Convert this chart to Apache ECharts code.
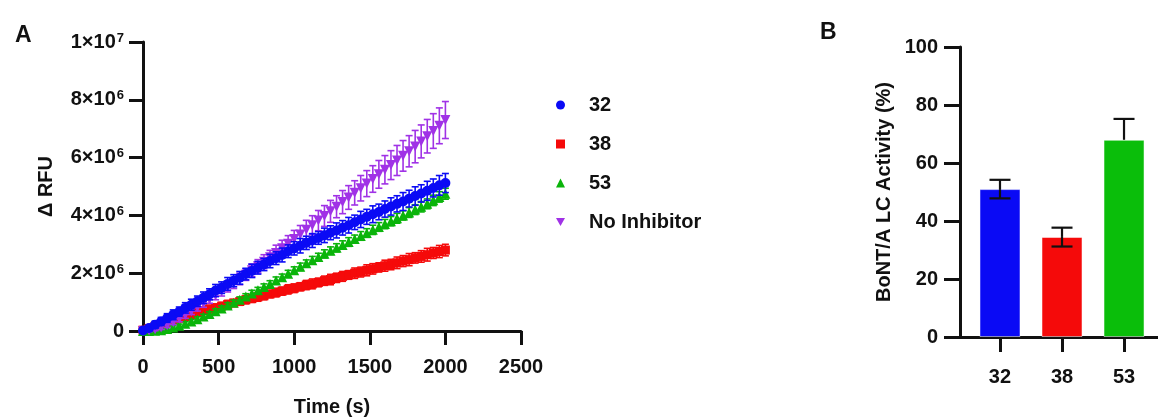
<!DOCTYPE html>
<html>
<head>
<meta charset="utf-8">
<script src="https://cdn.jsdelivr.net/npm/echarts@6/dist/echarts.min.js"></script>
<style>
html,body{margin:0;padding:0;background:#fff;}
#chart{width:1158px;height:418px;}
</style>
</head>
<body>
<div id="chart"></div>
<script>
// ---------- Panel A data (ΔRFU in units of 1e6) ----------
const timeS = [0,40,80,120,160,200,240,280,320,360,
  400,440,480,520,560,600,640,680,720,760,
  800,840,880,920,960,1000,1040,1080,1120,1160,
  1200,1240,1280,1320,1360,1400,1440,1480,1520,1560,
  1600,1640,1680,1720,1760,1800,1840,1880,1920,1960,
  2000];
const s32 = [0.02,0.10,0.22,0.33,0.45,0.56,0.67,0.80,0.91,1.03,
  1.15,1.27,1.40,1.50,1.63,1.74,1.84,1.97,2.08,2.19,
  2.30,2.42,2.52,2.63,2.76,2.86,2.95,3.05,3.13,3.22,
  3.31,3.40,3.48,3.57,3.66,3.76,3.86,3.95,4.04,4.12,
  4.22,4.31,4.40,4.48,4.58,4.67,4.76,4.85,4.95,5.04,
  5.12];
const e32 = [0.08,0.10,0.12,0.14,0.15,0.17,0.16,0.18,0.19,0.18,
  0.20,0.19,0.21,0.20,0.22,0.21,0.22,0.20,0.23,0.22,
  0.21,0.23,0.22,0.24,0.22,0.23,0.25,0.23,0.24,0.22,
  0.25,0.24,0.26,0.25,0.27,0.25,0.28,0.26,0.29,0.27,
  0.28,0.30,0.28,0.31,0.29,0.32,0.30,0.33,0.31,0.34,
  0.33];
const s38 = [0.03,0.09,0.16,0.23,0.30,0.36,0.44,0.50,0.57,0.64,
  0.70,0.76,0.81,0.86,0.92,0.97,1.02,1.08,1.12,1.18,
  1.22,1.28,1.33,1.38,1.44,1.48,1.53,1.59,1.63,1.68,
  1.74,1.78,1.84,1.89,1.94,2.00,2.04,2.10,2.15,2.20,
  2.26,2.30,2.36,2.42,2.47,2.53,2.58,2.64,2.70,2.75,
  2.80];
const e38 = [0.06,0.07,0.08,0.09,0.10,0.10,0.11,0.10,0.12,0.11,
  0.12,0.13,0.12,0.13,0.14,0.12,0.13,0.14,0.13,0.15,
  0.14,0.13,0.15,0.14,0.16,0.15,0.14,0.16,0.17,0.15,
  0.16,0.18,0.16,0.17,0.15,0.18,0.17,0.19,0.18,0.16,
  0.19,0.18,0.20,0.19,0.21,0.18,0.20,0.22,0.19,0.21,
  0.20];
const s53 = [0.00,0.00,0.01,0.03,0.07,0.12,0.18,0.25,0.33,0.41,
  0.50,0.59,0.68,0.78,0.88,0.98,1.08,1.19,1.30,1.41,
  1.52,1.63,1.75,1.86,1.98,2.10,2.22,2.34,2.45,2.56,
  2.67,2.78,2.88,2.98,3.08,3.18,3.29,3.39,3.50,3.60,
  3.70,3.80,3.90,4.00,4.10,4.20,4.30,4.40,4.52,4.64,
  4.75];
const e53 = [0.03,0.03,0.04,0.05,0.05,0.06,0.06,0.07,0.07,0.08,
  0.08,0.08,0.09,0.09,0.10,0.09,0.10,0.10,0.11,0.10,
  0.11,0.11,0.12,0.11,0.12,0.12,0.13,0.12,0.13,0.13,
  0.14,0.13,0.14,0.14,0.15,0.14,0.15,0.15,0.16,0.15,
  0.16,0.16,0.17,0.16,0.17,0.17,0.18,0.17,0.18,0.18,
  0.19];
const sNo = [0.00,0.02,0.06,0.12,0.20,0.30,0.42,0.55,0.68,0.82,
  0.96,1.10,1.24,1.38,1.52,1.66,1.80,1.95,2.10,2.24,
  2.40,2.55,2.70,2.86,3.02,3.18,3.34,3.50,3.66,3.82,
  3.98,4.14,4.30,4.46,4.62,4.78,4.94,5.10,5.26,5.42,
  5.58,5.74,5.90,6.06,6.22,6.38,6.56,6.74,6.92,7.10,
  7.30];
const eNo = [0.03,0.05,0.05,0.07,0.08,0.08,0.10,0.11,0.11,0.13,
  0.14,0.14,0.16,0.17,0.17,0.19,0.20,0.20,0.22,0.23,
  0.24,0.24,0.27,0.28,0.28,0.30,0.31,0.33,0.33,0.35,
  0.36,0.38,0.38,0.40,0.41,0.42,0.44,0.45,0.46,0.48,
  0.49,0.50,0.52,0.53,0.54,0.56,0.57,0.58,0.60,0.62,
  0.64];
const seriesNamesA = ['32','38','53','No Inhibitor'];
const xTicksA = [0,500,1000,1500,2000,2500];

// ---------- Panel B data ----------
const bCats = ['32','38','53'];
const bVals = [51, 34.5, 68];
const bErrUp = [3.2, 3.2, 7.2];
const bErrDown = [3.2, 3.3, 0];

const FONT = '"Liberation Sans", Arial, Helvetica, sans-serif';
const colA = {'32':'#0A0AF5','38':'#F50A0A','53':'#0AB40A','No Inhibitor':'#A032E6'};
const colB = ['#0A0AF5','#F50A0A','#0ABE0A'];

function zip(t, v, e){ return t.map((x,i)=>[x, v[i], e[i]]); }

function errRenderA(color){
  return function(params, api){
    const x = api.value(0), y = api.value(1), e = api.value(2);
    const top = api.coord([x, y + e]);
    const bot = api.coord([x, y - e]);
    const c = 3.5;
    const st = {stroke: color, lineWidth: 1.6};
    return {type:'group', children:[
      {type:'line', shape:{x1:top[0],y1:top[1],x2:bot[0],y2:bot[1]}, style:st},
      {type:'line', shape:{x1:top[0]-c,y1:top[1],x2:top[0]+c,y2:top[1]}, style:st},
      {type:'line', shape:{x1:bot[0]-c,y1:bot[1],x2:bot[0]+c,y2:bot[1]}, style:st}
    ]};
  };
}

const sets = [
  {name:'38', v:s38, e:e38, sym:'rect', size:9},
  {name:'53', v:s53, e:e53, sym:'triangle', size:10},
  {name:'No Inhibitor', v:sNo, e:eNo, sym:'path://M0,0L10,0L5,9Z', size:10},
  {name:'32', v:s32, e:e32, sym:'circle', size:10}
];

const seriesA = [];
sets.forEach((s, k) => {
  seriesA.push({
    type:'custom', xAxisIndex:0, yAxisIndex:0, z: 2 + k*2,
    renderItem: errRenderA(colA[s.name]),
    data: zip(timeS, s.v, s.e), silent:true
  });
  seriesA.push({
    type:'scatter', name:s.name, xAxisIndex:0, yAxisIndex:0, z: 3 + k*2,
    symbol:s.sym, symbolSize:s.size,
    itemStyle:{color:colA[s.name], opacity:1},
    data: timeS.map((t,i)=>[t, s.v[i]]), silent:true
  });
});

const barData = bVals.map((v,i)=>({value:[i+1, v], itemStyle:{color:colB[i], borderColor:'rgba(255,255,255,0.5)', borderWidth:1}}));
const errB = bVals.map((v,i)=>[i+1, v, bErrUp[i], bErrDown[i]]);

const axisTextA = {color:'#111', fontFamily:FONT, fontWeight:'bold', fontSize:20};

const option = {
  animation:false,
  backgroundColor:'#fff',
  title:[
    {text:'A', left:10, top:19, textStyle:{fontFamily:FONT, fontWeight:'bold', fontSize:23, color:'#111'}},
    {text:'B', left:815, top:16, textStyle:{fontFamily:FONT, fontWeight:'bold', fontSize:23, color:'#111'}}
  ],
  legend:{
    orient:'vertical', left:551, top:90, itemWidth:9, itemHeight:9, itemGap:19,
    textStyle:{fontFamily:FONT, fontWeight:'bold', fontSize:20, color:'#111', padding:[0,0,0,19], lineHeight:20},
    itemStyle:{opacity:1},
    data:[
      {name:'32', icon:'circle'},
      {name:'38', icon:'rect'},
      {name:'53', icon:'triangle'},
      {name:'No Inhibitor', icon:'path://M0,0L10,0L5,9Z'}
    ],
    selectedMode:false
  },
  grid:[
    {left:143, top:42, width:378, height:289, containLabel:false, outerBoundsMode:'none'},
    {left:960, top:47, width:198, height:290, containLabel:false, outerBoundsMode:'none'}
  ],
  xAxis:[
    {type:'value', gridIndex:0, min:0, max:2500, interval:500,
     name:'Time (s)', nameLocation:'middle', nameGap:66,
     nameTextStyle:axisTextA,
     axisLine:{show:true, onZero:false, lineStyle:{color:'#111', width:3}},
     axisTick:{show:true, length:14, lineStyle:{color:'#111', width:3}},
     axisLabel:Object.assign({margin:26, formatter:(v)=>String(v)}, axisTextA),
     splitLine:{show:false}},
    {type:'value', gridIndex:1, min:0.355, max:3.548,
     axisLine:{show:true, onZero:false, lineStyle:{color:'#111', width:3}},
     axisTick:{show:true, length:15, customValues:[1,2,3], lineStyle:{color:'#111', width:3}},
     axisLabel:Object.assign({margin:30, customValues:[1,2,3], formatter:(v)=>bCats[Math.round(v)-1] || ''}, axisTextA),
     splitLine:{show:false}}
  ],
  yAxis:[
    {type:'value', gridIndex:0, min:0, max:10, interval:2,
     name:'Δ RFU', nameLocation:'middle', nameGap:87, nameRotate:90,
     nameTextStyle:axisTextA,
     axisLine:{show:true, onZero:false, lineStyle:{color:'#111', width:3}},
     axisTick:{show:true, length:14, lineStyle:{color:'#111', width:3}},
     axisLabel:{margin:19, color:'#111', fontFamily:FONT, fontWeight:'bold', fontSize:20,
       formatter:function(v){
         if (v === 0) return '{b|0}';
         const val = v * 1e6;
         const ex = Math.floor(Math.log10(val) + 1e-9);
         const m = Math.round(val / Math.pow(10, ex));
         return '{b|' + m + '×10}{s|' + ex + '}';
       },
       rich:{
         b:{fontFamily:FONT, fontWeight:'bold', fontSize:20, color:'#111'},
         s:{fontFamily:FONT, fontWeight:'bold', fontSize:13, color:'#111', verticalAlign:'top', padding:[0,0,8,1]}
       }},
     splitLine:{show:false}},
    {type:'value', gridIndex:1, min:0, max:100, interval:20,
     name:'BoNT/A LC Activity (%)', nameLocation:'middle', nameGap:66, nameRotate:90,
     nameTextStyle:axisTextA,
     axisLine:{show:true, onZero:false, lineStyle:{color:'#111', width:3}},
     axisTick:{show:true, length:16, lineStyle:{color:'#111', width:3}},
     axisLabel:Object.assign({margin:22}, axisTextA),
     splitLine:{show:false}}
  ],
  series: seriesA.concat([
    {type:'bar', xAxisIndex:1, yAxisIndex:1, barWidth:41, data:barData, silent:true, z:2},
    {type:'custom', xAxisIndex:1, yAxisIndex:1, z:3, silent:true,
     renderItem:function(params, api){
       const x = api.value(0), y = api.value(1), up = api.value(2), dn = api.value(3);
       const p0 = api.coord([x, y]);
       const pu = api.coord([x, y + up]);
       const pd = api.coord([x, y - dn]);
       const c = 10.5;
       const st = {stroke:'#111', lineWidth:2.2};
       const ch = [
         {type:'line', shape:{x1:p0[0],y1:p0[1],x2:pu[0],y2:pu[1]}, style:st},
         {type:'line', shape:{x1:pu[0]-c,y1:pu[1],x2:pu[0]+c,y2:pu[1]}, style:st}
       ];
       if (dn > 0) {
         ch.push({type:'line', shape:{x1:p0[0],y1:p0[1],x2:pd[0],y2:pd[1]}, style:st});
         ch.push({type:'line', shape:{x1:pd[0]-c,y1:pd[1],x2:pd[0]+c,y2:pd[1]}, style:st});
       }
       return {type:'group', children:ch};
     },
     data:errB}
  ])
};

const chart = echarts.init(document.getElementById('chart'), null, {renderer:'canvas'});
chart.setOption(option);
</script>
</body>
</html>
